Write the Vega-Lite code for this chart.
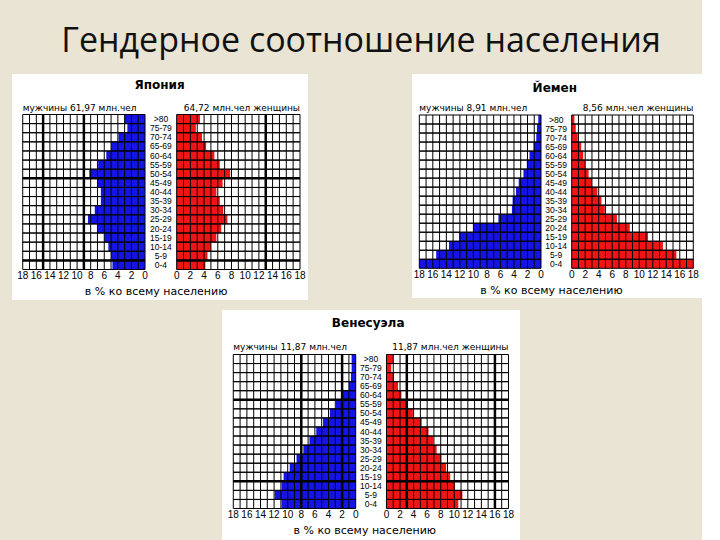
{
  "$schema": "https://vega.github.io/schema/vega-lite/v6.json",
  "background": "#e9e4d4",
  "padding": {"left": 12, "top": 25, "right": 0, "bottom": 0},
  "title": {"text": "Гендерное соотношение населения", "font": "Open Sans", "fontSize": 34, "fontWeight": "normal", "color": "#111111", "anchor": "middle", "offset": 15, "dx": 4},
  "config": {"view": {"stroke": null}},
  "datasets": {
    "grid": [{"v":0},{"v":1},{"v":2},{"v":3},{"v":4},{"v":5},{"v":6},{"v":7},{"v":8},{"v":9},{"v":10},{"v":11},{"v":12},{"v":13},{"v":14},{"v":15},{"v":16},{"v":17},{"v":18}],
    "japan": [
      {"age":">80","lo":80,"hi":85,"m":3.0,"f":3.4},
      {"age":"75-79","lo":75,"hi":80,"m":2.6,"f":2.8},
      {"age":"70-74","lo":70,"hi":75,"m":3.9,"f":3.7},
      {"age":"65-69","lo":65,"hi":70,"m":5.0,"f":4.3},
      {"age":"60-64","lo":60,"hi":65,"m":5.7,"f":5.5},
      {"age":"55-59","lo":55,"hi":60,"m":6.9,"f":6.3},
      {"age":"50-54","lo":50,"hi":55,"m":8.2,"f":7.8},
      {"age":"45-49","lo":45,"hi":50,"m":7.0,"f":6.7},
      {"age":"40-44","lo":40,"hi":45,"m":6.5,"f":5.8},
      {"age":"35-39","lo":35,"hi":40,"m":6.5,"f":6.3},
      {"age":"30-34","lo":30,"hi":35,"m":7.4,"f":6.8},
      {"age":"25-29","lo":25,"hi":30,"m":8.4,"f":7.4},
      {"age":"20-24","lo":20,"hi":25,"m":7.0,"f":6.5},
      {"age":"15-19","lo":15,"hi":20,"m":6.0,"f":5.8},
      {"age":"10-14","lo":10,"hi":15,"m":5.4,"f":5.0},
      {"age":"5-9","lo":5,"hi":10,"m":5.0,"f":4.5},
      {"age":"0-4","lo":0,"hi":5,"m":4.8,"f":4.2}
    ],
    "japan_thick": [{"dir":"v","side":"m","v":15},{"dir":"v","side":"m","v":9},{"dir":"v","side":"f","v":13},{"dir":"h","side":"b","v":50},{"dir":"h","side":"b","v":5}],
    "yemen": [
      {"age":">80","lo":80,"hi":85,"m":0.4,"f":0.4},
      {"age":"75-79","lo":75,"hi":80,"m":0.6,"f":0.6},
      {"age":"70-74","lo":70,"hi":75,"m":0.7,"f":0.9},
      {"age":"65-69","lo":65,"hi":70,"m":1.1,"f":1.4},
      {"age":"60-64","lo":60,"hi":65,"m":1.7,"f":1.7},
      {"age":"55-59","lo":55,"hi":60,"m":2.1,"f":2.0},
      {"age":"50-54","lo":50,"hi":55,"m":2.6,"f":2.5},
      {"age":"45-49","lo":45,"hi":50,"m":3.3,"f":3.0},
      {"age":"40-44","lo":40,"hi":45,"m":3.7,"f":3.8},
      {"age":"35-39","lo":35,"hi":40,"m":4.2,"f":4.4},
      {"age":"30-34","lo":30,"hi":35,"m":4.3,"f":4.9},
      {"age":"25-29","lo":25,"hi":30,"m":6.3,"f":6.7},
      {"age":"20-24","lo":20,"hi":25,"m":10.0,"f":8.6},
      {"age":"15-19","lo":15,"hi":20,"m":12.1,"f":11.3},
      {"age":"10-14","lo":10,"hi":15,"m":13.6,"f":13.5},
      {"age":"5-9","lo":5,"hi":10,"m":15.5,"f":15.5},
      {"age":"0-4","lo":0,"hi":5,"m":18.0,"f":18.0}
    ],
    "venezuela": [
      {"age":">80","lo":80,"hi":85,"m":0.6,"f":1.0},
      {"age":"75-79","lo":75,"hi":80,"m":0.6,"f":0.7},
      {"age":"70-74","lo":70,"hi":75,"m":0.7,"f":1.1},
      {"age":"65-69","lo":65,"hi":70,"m":1.0,"f":1.7},
      {"age":"60-64","lo":60,"hi":65,"m":1.9,"f":2.2},
      {"age":"55-59","lo":55,"hi":60,"m":2.9,"f":2.9},
      {"age":"50-54","lo":50,"hi":55,"m":3.8,"f":3.9},
      {"age":"45-49","lo":45,"hi":50,"m":4.8,"f":5.2},
      {"age":"40-44","lo":40,"hi":45,"m":5.8,"f":6.2},
      {"age":"35-39","lo":35,"hi":40,"m":6.8,"f":6.9},
      {"age":"30-34","lo":30,"hi":35,"m":7.7,"f":7.4},
      {"age":"25-29","lo":25,"hi":30,"m":8.7,"f":8.1},
      {"age":"20-24","lo":20,"hi":25,"m":9.7,"f":8.8},
      {"age":"15-19","lo":15,"hi":20,"m":10.6,"f":9.4},
      {"age":"10-14","lo":10,"hi":15,"m":10.9,"f":10.1},
      {"age":"5-9","lo":5,"hi":10,"m":11.9,"f":11.2},
      {"age":"0-4","lo":0,"hi":5,"m":10.9,"f":10.6}
    ],
    "venezuela_thick": [{"dir":"v","side":"m","v":8},{"dir":"v","side":"m","v":2},{"dir":"v","side":"f","v":3},{"dir":"v","side":"f","v":16},{"dir":"h","side":"b","v":60},{"dir":"h","side":"b","v":15}]
  },
  "spacing": 10,
  "vconcat": [
    {
      "spacing": 104,
      "hconcat": [
        {
          "width": 296, "height": 226,
          "view": {"fill": "white", "stroke": null},
          "resolve": {"scale": {"x": "independent"}},
          "layer": [
            {"layer": [
              {"data": {"name": "japan"}, "mark": {"type": "rect", "color": "#1414e6"},
               "encoding": {
                 "x": {"field": "m", "type": "quantitative", "scale": {"domain": [-23.99, 19.58], "reverse": true, "nice": false, "zero": false}, "axis": null},
                 "x2": {"datum": 0},
                 "y": {"field": "lo", "type": "quantitative", "scale": {"domain": [-16.73, 107.21], "nice": false, "zero": false}, "axis": null},
                 "y2": {"field": "hi"}}},
              {"data": {"name": "grid"}, "mark": {"type": "rule", "color": "black", "strokeWidth": 1},
               "encoding": {
                 "x": {"field": "v", "type": "quantitative", "scale": {"domain": [-23.99, 19.58], "reverse": true, "nice": false, "zero": false}, "axis": null},
                 "y": {"datum": 0, "type": "quantitative", "scale": {"domain": [-16.73, 107.21], "nice": false, "zero": false}, "axis": null},
                 "y2": {"datum": 85}}},
              {"data": {"name": "japan"}, "mark": {"type": "rule", "color": "black", "strokeWidth": 1},
               "encoding": {
                 "x": {"datum": 0, "type": "quantitative", "scale": {"domain": [-23.99, 19.58], "reverse": true, "nice": false, "zero": false}, "axis": null},
                 "x2": {"datum": 18},
                 "y": {"field": "lo", "type": "quantitative", "scale": {"domain": [-16.73, 107.21], "nice": false, "zero": false}, "axis": null}}},
              {"data": {"name": "japan"}, "mark": {"type": "rule", "color": "black", "strokeWidth": 1},
               "encoding": {
                 "x": {"datum": 0, "type": "quantitative", "scale": {"domain": [-23.99, 19.58], "reverse": true, "nice": false, "zero": false}, "axis": null},
                 "x2": {"datum": 18},
                 "y": {"field": "hi", "type": "quantitative", "scale": {"domain": [-16.73, 107.21], "nice": false, "zero": false}, "axis": null}}},
              {"data": {"name": "japan_thick"}, "transform": [{"filter": "datum.dir == 'v' && datum.side == 'm'"}], "mark": {"type": "rule", "color": "black", "strokeWidth": 2.5},
               "encoding": {
                 "x": {"field": "v", "type": "quantitative", "scale": {"domain": [-23.99, 19.58], "reverse": true, "nice": false, "zero": false}, "axis": null},
                 "y": {"datum": 0, "type": "quantitative", "scale": {"domain": [-16.73, 107.21], "nice": false, "zero": false}, "axis": null},
                 "y2": {"datum": 85}}},
              {"data": {"name": "japan_thick"}, "transform": [{"filter": "datum.dir == 'h'"}], "mark": {"type": "rule", "color": "black", "strokeWidth": 2.5},
               "encoding": {
                 "x": {"datum": 0, "type": "quantitative", "scale": {"domain": [-23.99, 19.58], "reverse": true, "nice": false, "zero": false}, "axis": null},
                 "x2": {"datum": 18},
                 "y": {"field": "v", "type": "quantitative", "scale": {"domain": [-16.73, 107.21], "nice": false, "zero": false}, "axis": null}}},
              {"data": {"name": "grid"}, "transform": [{"filter": "datum.v % 2 == 0"}], "mark": {"type": "text", "align": "center", "baseline": "top", "dy": 1.5, "font": "Liberation Sans", "fontSize": 10, "color": "black"},
               "encoding": {
                 "text": {"field": "v"},
                 "x": {"field": "v", "type": "quantitative", "scale": {"domain": [-23.99, 19.58], "reverse": true, "nice": false, "zero": false}, "axis": null},
                 "y": {"datum": 0, "type": "quantitative", "scale": {"domain": [-16.73, 107.21], "nice": false, "zero": false}, "axis": null}}},
              {"data": {"values": [{"t": "мужчины 61,97 млн.чел"}]}, "mark": {"type": "text", "align": "left", "baseline": "middle", "font": "DejaVu Sans", "fontSize": 9, "color": "black"},
               "encoding": {
                 "text": {"field": "t"},
                 "x": {"datum": 18, "type": "quantitative", "scale": {"domain": [-23.99, 19.58], "reverse": true, "nice": false, "zero": false}, "axis": null},
                 "y": {"datum": 88.57, "type": "quantitative", "scale": {"domain": [-16.73, 107.21], "nice": false, "zero": false}, "axis": null}}}
            ]},
            {"layer": [
              {"data": {"name": "japan"}, "mark": {"type": "rect", "color": "#f01414"},
               "encoding": {
                 "x": {"field": "f", "type": "quantitative", "scale": {"domain": [-24.04, 19.17], "nice": false, "zero": false}, "axis": null},
                 "x2": {"datum": 0},
                 "y": {"field": "lo", "type": "quantitative", "scale": {"domain": [-16.73, 107.21], "nice": false, "zero": false}, "axis": null},
                 "y2": {"field": "hi"}}},
              {"data": {"name": "grid"}, "mark": {"type": "rule", "color": "black", "strokeWidth": 1},
               "encoding": {
                 "x": {"field": "v", "type": "quantitative", "scale": {"domain": [-24.04, 19.17], "nice": false, "zero": false}, "axis": null},
                 "y": {"datum": 0, "type": "quantitative", "scale": {"domain": [-16.73, 107.21], "nice": false, "zero": false}, "axis": null},
                 "y2": {"datum": 85}}},
              {"data": {"name": "japan"}, "mark": {"type": "rule", "color": "black", "strokeWidth": 1},
               "encoding": {
                 "x": {"datum": 0, "type": "quantitative", "scale": {"domain": [-24.04, 19.17], "nice": false, "zero": false}, "axis": null},
                 "x2": {"datum": 18},
                 "y": {"field": "lo", "type": "quantitative", "scale": {"domain": [-16.73, 107.21], "nice": false, "zero": false}, "axis": null}}},
              {"data": {"name": "japan"}, "mark": {"type": "rule", "color": "black", "strokeWidth": 1},
               "encoding": {
                 "x": {"datum": 0, "type": "quantitative", "scale": {"domain": [-24.04, 19.17], "nice": false, "zero": false}, "axis": null},
                 "x2": {"datum": 18},
                 "y": {"field": "hi", "type": "quantitative", "scale": {"domain": [-16.73, 107.21], "nice": false, "zero": false}, "axis": null}}},
              {"data": {"name": "japan_thick"}, "transform": [{"filter": "datum.dir == 'v' && datum.side == 'f'"}], "mark": {"type": "rule", "color": "black", "strokeWidth": 2.5},
               "encoding": {
                 "x": {"field": "v", "type": "quantitative", "scale": {"domain": [-24.04, 19.17], "nice": false, "zero": false}, "axis": null},
                 "y": {"datum": 0, "type": "quantitative", "scale": {"domain": [-16.73, 107.21], "nice": false, "zero": false}, "axis": null},
                 "y2": {"datum": 85}}},
              {"data": {"name": "japan_thick"}, "transform": [{"filter": "datum.dir == 'h'"}], "mark": {"type": "rule", "color": "black", "strokeWidth": 2.5},
               "encoding": {
                 "x": {"datum": 0, "type": "quantitative", "scale": {"domain": [-24.04, 19.17], "nice": false, "zero": false}, "axis": null},
                 "x2": {"datum": 18},
                 "y": {"field": "v", "type": "quantitative", "scale": {"domain": [-16.73, 107.21], "nice": false, "zero": false}, "axis": null}}},
              {"data": {"name": "grid"}, "transform": [{"filter": "datum.v % 2 == 0"}], "mark": {"type": "text", "align": "center", "baseline": "top", "dy": 1.5, "font": "Liberation Sans", "fontSize": 10, "color": "black"},
               "encoding": {
                 "text": {"field": "v"},
                 "x": {"field": "v", "type": "quantitative", "scale": {"domain": [-24.04, 19.17], "nice": false, "zero": false}, "axis": null},
                 "y": {"datum": 0, "type": "quantitative", "scale": {"domain": [-16.73, 107.21], "nice": false, "zero": false}, "axis": null}}},
              {"data": {"values": [{"t": "в % ко всему населению"}]}, "mark": {"type": "text", "align": "center", "baseline": "top", "dy": 17, "font": "DejaVu Sans", "fontSize": 11, "color": "black"},
               "encoding": {
                 "text": {"field": "t"},
                 "x": {"datum": -3.0, "type": "quantitative", "scale": {"domain": [-24.04, 19.17], "nice": false, "zero": false}, "axis": null},
                 "y": {"datum": 0, "type": "quantitative", "scale": {"domain": [-16.73, 107.21], "nice": false, "zero": false}, "axis": null}}},
              {"data": {"values": [{"t": "64,72 млн.чел женщины"}]}, "mark": {"type": "text", "align": "right", "baseline": "middle", "font": "DejaVu Sans", "fontSize": 9, "color": "black"},
               "encoding": {
                 "text": {"field": "t"},
                 "x": {"datum": 18, "type": "quantitative", "scale": {"domain": [-24.04, 19.17], "nice": false, "zero": false}, "axis": null},
                 "y": {"datum": 88.57, "type": "quantitative", "scale": {"domain": [-16.73, 107.21], "nice": false, "zero": false}, "axis": null}}},
              {"data": {"values": [{"t": "Япония"}]}, "mark": {"type": "text", "align": "center", "baseline": "middle", "font": "DejaVu Sans", "fontSize": 12, "fontWeight": "bold", "color": "black"},
               "encoding": {
                 "text": {"field": "t"},
                 "x": {"datum": -2.5, "type": "quantitative", "scale": {"domain": [-24.04, 19.17], "nice": false, "zero": false}, "axis": null},
                 "y": {"datum": 101.18, "type": "quantitative", "scale": {"domain": [-16.73, 107.21], "nice": false, "zero": false}, "axis": null}}},
              {"data": {"name": "japan"}, "mark": {"type": "text", "align": "center", "baseline": "middle", "dy": -4.5, "font": "Liberation Sans", "fontSize": 8.5, "color": "black"},
               "encoding": {
                 "text": {"field": "age"},
                 "x": {"datum": -2.3, "type": "quantitative", "scale": {"domain": [-24.04, 19.17], "nice": false, "zero": false}, "axis": null},
                 "y": {"field": "lo", "type": "quantitative", "scale": {"domain": [-16.73, 107.21], "nice": false, "zero": false}, "axis": null}}}
            ]}
          ]
        },
        {
          "width": 290, "height": 224,
          "view": {"fill": "white", "stroke": null},
          "resolve": {"scale": {"x": "independent"}},
          "layer": [
            {"layer": [
              {"data": {"name": "yemen"}, "mark": {"type": "rect", "color": "#1414e6"},
               "encoding": {
                 "x": {"field": "m", "type": "quantitative", "scale": {"domain": [-23.81, 19.08], "reverse": true, "nice": false, "zero": false}, "axis": null},
                 "x2": {"datum": 0},
                 "y": {"field": "lo", "type": "quantitative", "scale": {"domain": [-16.47, 107.73], "nice": false, "zero": false}, "axis": null},
                 "y2": {"field": "hi"}}},
              {"data": {"name": "grid"}, "mark": {"type": "rule", "color": "black", "strokeWidth": 1},
               "encoding": {
                 "x": {"field": "v", "type": "quantitative", "scale": {"domain": [-23.81, 19.08], "reverse": true, "nice": false, "zero": false}, "axis": null},
                 "y": {"datum": 0, "type": "quantitative", "scale": {"domain": [-16.47, 107.73], "nice": false, "zero": false}, "axis": null},
                 "y2": {"datum": 85}}},
              {"data": {"name": "yemen"}, "mark": {"type": "rule", "color": "black", "strokeWidth": 1},
               "encoding": {
                 "x": {"datum": 0, "type": "quantitative", "scale": {"domain": [-23.81, 19.08], "reverse": true, "nice": false, "zero": false}, "axis": null},
                 "x2": {"datum": 18},
                 "y": {"field": "lo", "type": "quantitative", "scale": {"domain": [-16.47, 107.73], "nice": false, "zero": false}, "axis": null}}},
              {"data": {"name": "yemen"}, "mark": {"type": "rule", "color": "black", "strokeWidth": 1},
               "encoding": {
                 "x": {"datum": 0, "type": "quantitative", "scale": {"domain": [-23.81, 19.08], "reverse": true, "nice": false, "zero": false}, "axis": null},
                 "x2": {"datum": 18},
                 "y": {"field": "hi", "type": "quantitative", "scale": {"domain": [-16.47, 107.73], "nice": false, "zero": false}, "axis": null}}},
              {"data": {"name": "grid"}, "transform": [{"filter": "datum.v % 2 == 0"}], "mark": {"type": "text", "align": "center", "baseline": "top", "dy": 1.5, "font": "Liberation Sans", "fontSize": 10, "color": "black"},
               "encoding": {
                 "text": {"field": "v"},
                 "x": {"field": "v", "type": "quantitative", "scale": {"domain": [-23.81, 19.08], "reverse": true, "nice": false, "zero": false}, "axis": null},
                 "y": {"datum": 0, "type": "quantitative", "scale": {"domain": [-16.47, 107.73], "nice": false, "zero": false}, "axis": null}}},
              {"data": {"values": [{"t": "мужчины 8,91 млн.чел"}]}, "mark": {"type": "text", "align": "left", "baseline": "middle", "font": "DejaVu Sans", "fontSize": 9, "color": "black"},
               "encoding": {
                 "text": {"field": "t"},
                 "x": {"datum": 18, "type": "quantitative", "scale": {"domain": [-23.81, 19.08], "reverse": true, "nice": false, "zero": false}, "axis": null},
                 "y": {"datum": 88.71, "type": "quantitative", "scale": {"domain": [-16.47, 107.73], "nice": false, "zero": false}, "axis": null}}}
            ]},
            {"layer": [
              {"data": {"name": "yemen"}, "mark": {"type": "rect", "color": "#f01414"},
               "encoding": {
                 "x": {"field": "f", "type": "quantitative", "scale": {"domain": [-23.64, 19.29], "nice": false, "zero": false}, "axis": null},
                 "x2": {"datum": 0},
                 "y": {"field": "lo", "type": "quantitative", "scale": {"domain": [-16.47, 107.73], "nice": false, "zero": false}, "axis": null},
                 "y2": {"field": "hi"}}},
              {"data": {"name": "grid"}, "mark": {"type": "rule", "color": "black", "strokeWidth": 1},
               "encoding": {
                 "x": {"field": "v", "type": "quantitative", "scale": {"domain": [-23.64, 19.29], "nice": false, "zero": false}, "axis": null},
                 "y": {"datum": 0, "type": "quantitative", "scale": {"domain": [-16.47, 107.73], "nice": false, "zero": false}, "axis": null},
                 "y2": {"datum": 85}}},
              {"data": {"name": "yemen"}, "mark": {"type": "rule", "color": "black", "strokeWidth": 1},
               "encoding": {
                 "x": {"datum": 0, "type": "quantitative", "scale": {"domain": [-23.64, 19.29], "nice": false, "zero": false}, "axis": null},
                 "x2": {"datum": 18},
                 "y": {"field": "lo", "type": "quantitative", "scale": {"domain": [-16.47, 107.73], "nice": false, "zero": false}, "axis": null}}},
              {"data": {"name": "yemen"}, "mark": {"type": "rule", "color": "black", "strokeWidth": 1},
               "encoding": {
                 "x": {"datum": 0, "type": "quantitative", "scale": {"domain": [-23.64, 19.29], "nice": false, "zero": false}, "axis": null},
                 "x2": {"datum": 18},
                 "y": {"field": "hi", "type": "quantitative", "scale": {"domain": [-16.47, 107.73], "nice": false, "zero": false}, "axis": null}}},
              {"data": {"name": "grid"}, "transform": [{"filter": "datum.v % 2 == 0"}], "mark": {"type": "text", "align": "center", "baseline": "top", "dy": 1.5, "font": "Liberation Sans", "fontSize": 10, "color": "black"},
               "encoding": {
                 "text": {"field": "v"},
                 "x": {"field": "v", "type": "quantitative", "scale": {"domain": [-23.64, 19.29], "nice": false, "zero": false}, "axis": null},
                 "y": {"datum": 0, "type": "quantitative", "scale": {"domain": [-16.47, 107.73], "nice": false, "zero": false}, "axis": null}}},
              {"data": {"values": [{"t": "в % ко всему населению"}]}, "mark": {"type": "text", "align": "center", "baseline": "top", "dy": 17, "font": "DejaVu Sans", "fontSize": 11, "color": "black"},
               "encoding": {
                 "text": {"field": "t"},
                 "x": {"datum": -3.0, "type": "quantitative", "scale": {"domain": [-23.64, 19.29], "nice": false, "zero": false}, "axis": null},
                 "y": {"datum": 0, "type": "quantitative", "scale": {"domain": [-16.47, 107.73], "nice": false, "zero": false}, "axis": null}}},
              {"data": {"values": [{"t": "8,56 млн.чел женщины"}]}, "mark": {"type": "text", "align": "right", "baseline": "middle", "font": "DejaVu Sans", "fontSize": 9, "color": "black"},
               "encoding": {
                 "text": {"field": "t"},
                 "x": {"datum": 18, "type": "quantitative", "scale": {"domain": [-23.64, 19.29], "nice": false, "zero": false}, "axis": null},
                 "y": {"datum": 88.71, "type": "quantitative", "scale": {"domain": [-16.47, 107.73], "nice": false, "zero": false}, "axis": null}}},
              {"data": {"values": [{"t": "Йемен"}]}, "mark": {"type": "text", "align": "center", "baseline": "middle", "font": "DejaVu Sans", "fontSize": 12, "fontWeight": "bold", "color": "black"},
               "encoding": {
                 "text": {"field": "t"},
                 "x": {"datum": -2.5, "type": "quantitative", "scale": {"domain": [-23.64, 19.29], "nice": false, "zero": false}, "axis": null},
                 "y": {"datum": 99.8, "type": "quantitative", "scale": {"domain": [-16.47, 107.73], "nice": false, "zero": false}, "axis": null}}},
              {"data": {"name": "yemen"}, "mark": {"type": "text", "align": "center", "baseline": "middle", "dy": -4.5, "font": "Liberation Sans", "fontSize": 8.5, "color": "black"},
               "encoding": {
                 "text": {"field": "age"},
                 "x": {"datum": -2.3, "type": "quantitative", "scale": {"domain": [-23.64, 19.29], "nice": false, "zero": false}, "axis": null},
                 "y": {"field": "lo", "type": "quantitative", "scale": {"domain": [-16.47, 107.73], "nice": false, "zero": false}, "axis": null}}}
            ]}
          ]
        }
      ]
    },
    {
      "spacing": 0,
      "hconcat": [
        {"width": 210, "height": 20, "data": {"values": []}, "mark": {"type": "point", "opacity": 0}},
        {
          "width": 298, "height": 230,
          "view": {"fill": "white", "stroke": null},
          "resolve": {"scale": {"x": "independent"}},
          "layer": [
            {"layer": [
              {"data": {"name": "venezuela"}, "mark": {"type": "rect", "color": "#1414e6"},
               "encoding": {
                 "x": {"field": "m", "type": "quantitative", "scale": {"domain": [-24.16, 19.66], "reverse": true, "nice": false, "zero": false}, "axis": null},
                 "x2": {"datum": 0},
                 "y": {"field": "lo", "type": "quantitative", "scale": {"domain": [-17.39, 109.56], "nice": false, "zero": false}, "axis": null},
                 "y2": {"field": "hi"}}},
              {"data": {"name": "grid"}, "mark": {"type": "rule", "color": "black", "strokeWidth": 1},
               "encoding": {
                 "x": {"field": "v", "type": "quantitative", "scale": {"domain": [-24.16, 19.66], "reverse": true, "nice": false, "zero": false}, "axis": null},
                 "y": {"datum": 0, "type": "quantitative", "scale": {"domain": [-17.39, 109.56], "nice": false, "zero": false}, "axis": null},
                 "y2": {"datum": 85}}},
              {"data": {"name": "venezuela"}, "mark": {"type": "rule", "color": "black", "strokeWidth": 1},
               "encoding": {
                 "x": {"datum": 0, "type": "quantitative", "scale": {"domain": [-24.16, 19.66], "reverse": true, "nice": false, "zero": false}, "axis": null},
                 "x2": {"datum": 18},
                 "y": {"field": "lo", "type": "quantitative", "scale": {"domain": [-17.39, 109.56], "nice": false, "zero": false}, "axis": null}}},
              {"data": {"name": "venezuela"}, "mark": {"type": "rule", "color": "black", "strokeWidth": 1},
               "encoding": {
                 "x": {"datum": 0, "type": "quantitative", "scale": {"domain": [-24.16, 19.66], "reverse": true, "nice": false, "zero": false}, "axis": null},
                 "x2": {"datum": 18},
                 "y": {"field": "hi", "type": "quantitative", "scale": {"domain": [-17.39, 109.56], "nice": false, "zero": false}, "axis": null}}},
              {"data": {"name": "venezuela_thick"}, "transform": [{"filter": "datum.dir == 'v' && datum.side == 'm'"}], "mark": {"type": "rule", "color": "black", "strokeWidth": 2.5},
               "encoding": {
                 "x": {"field": "v", "type": "quantitative", "scale": {"domain": [-24.16, 19.66], "reverse": true, "nice": false, "zero": false}, "axis": null},
                 "y": {"datum": 0, "type": "quantitative", "scale": {"domain": [-17.39, 109.56], "nice": false, "zero": false}, "axis": null},
                 "y2": {"datum": 85}}},
              {"data": {"name": "venezuela_thick"}, "transform": [{"filter": "datum.dir == 'h'"}], "mark": {"type": "rule", "color": "black", "strokeWidth": 2.5},
               "encoding": {
                 "x": {"datum": 0, "type": "quantitative", "scale": {"domain": [-24.16, 19.66], "reverse": true, "nice": false, "zero": false}, "axis": null},
                 "x2": {"datum": 18},
                 "y": {"field": "v", "type": "quantitative", "scale": {"domain": [-17.39, 109.56], "nice": false, "zero": false}, "axis": null}}},
              {"data": {"name": "grid"}, "transform": [{"filter": "datum.v % 2 == 0"}], "mark": {"type": "text", "align": "center", "baseline": "top", "dy": 1.5, "font": "Liberation Sans", "fontSize": 10, "color": "black"},
               "encoding": {
                 "text": {"field": "v"},
                 "x": {"field": "v", "type": "quantitative", "scale": {"domain": [-24.16, 19.66], "reverse": true, "nice": false, "zero": false}, "axis": null},
                 "y": {"datum": 0, "type": "quantitative", "scale": {"domain": [-17.39, 109.56], "nice": false, "zero": false}, "axis": null}}},
              {"data": {"values": [{"t": "мужчины 11,87 млн.чел"}]}, "mark": {"type": "text", "align": "left", "baseline": "middle", "font": "DejaVu Sans", "fontSize": 9, "color": "black"},
               "encoding": {
                 "text": {"field": "t"},
                 "x": {"datum": 18, "type": "quantitative", "scale": {"domain": [-24.16, 19.66], "reverse": true, "nice": false, "zero": false}, "axis": null},
                 "y": {"datum": 89.1, "type": "quantitative", "scale": {"domain": [-17.39, 109.56], "nice": false, "zero": false}, "axis": null}}}
            ]},
            {"layer": [
              {"data": {"name": "venezuela"}, "mark": {"type": "rect", "color": "#f01414"},
               "encoding": {
                 "x": {"field": "f", "type": "quantitative", "scale": {"domain": [-24.27, 19.70], "nice": false, "zero": false}, "axis": null},
                 "x2": {"datum": 0},
                 "y": {"field": "lo", "type": "quantitative", "scale": {"domain": [-17.39, 109.56], "nice": false, "zero": false}, "axis": null},
                 "y2": {"field": "hi"}}},
              {"data": {"name": "grid"}, "mark": {"type": "rule", "color": "black", "strokeWidth": 1},
               "encoding": {
                 "x": {"field": "v", "type": "quantitative", "scale": {"domain": [-24.27, 19.70], "nice": false, "zero": false}, "axis": null},
                 "y": {"datum": 0, "type": "quantitative", "scale": {"domain": [-17.39, 109.56], "nice": false, "zero": false}, "axis": null},
                 "y2": {"datum": 85}}},
              {"data": {"name": "venezuela"}, "mark": {"type": "rule", "color": "black", "strokeWidth": 1},
               "encoding": {
                 "x": {"datum": 0, "type": "quantitative", "scale": {"domain": [-24.27, 19.70], "nice": false, "zero": false}, "axis": null},
                 "x2": {"datum": 18},
                 "y": {"field": "lo", "type": "quantitative", "scale": {"domain": [-17.39, 109.56], "nice": false, "zero": false}, "axis": null}}},
              {"data": {"name": "venezuela"}, "mark": {"type": "rule", "color": "black", "strokeWidth": 1},
               "encoding": {
                 "x": {"datum": 0, "type": "quantitative", "scale": {"domain": [-24.27, 19.70], "nice": false, "zero": false}, "axis": null},
                 "x2": {"datum": 18},
                 "y": {"field": "hi", "type": "quantitative", "scale": {"domain": [-17.39, 109.56], "nice": false, "zero": false}, "axis": null}}},
              {"data": {"name": "venezuela_thick"}, "transform": [{"filter": "datum.dir == 'v' && datum.side == 'f'"}], "mark": {"type": "rule", "color": "black", "strokeWidth": 2.5},
               "encoding": {
                 "x": {"field": "v", "type": "quantitative", "scale": {"domain": [-24.27, 19.70], "nice": false, "zero": false}, "axis": null},
                 "y": {"datum": 0, "type": "quantitative", "scale": {"domain": [-17.39, 109.56], "nice": false, "zero": false}, "axis": null},
                 "y2": {"datum": 85}}},
              {"data": {"name": "venezuela_thick"}, "transform": [{"filter": "datum.dir == 'h'"}], "mark": {"type": "rule", "color": "black", "strokeWidth": 2.5},
               "encoding": {
                 "x": {"datum": 0, "type": "quantitative", "scale": {"domain": [-24.27, 19.70], "nice": false, "zero": false}, "axis": null},
                 "x2": {"datum": 18},
                 "y": {"field": "v", "type": "quantitative", "scale": {"domain": [-17.39, 109.56], "nice": false, "zero": false}, "axis": null}}},
              {"data": {"name": "grid"}, "transform": [{"filter": "datum.v % 2 == 0"}], "mark": {"type": "text", "align": "center", "baseline": "top", "dy": 1.5, "font": "Liberation Sans", "fontSize": 10, "color": "black"},
               "encoding": {
                 "text": {"field": "v"},
                 "x": {"field": "v", "type": "quantitative", "scale": {"domain": [-24.27, 19.70], "nice": false, "zero": false}, "axis": null},
                 "y": {"datum": 0, "type": "quantitative", "scale": {"domain": [-17.39, 109.56], "nice": false, "zero": false}, "axis": null}}},
              {"data": {"values": [{"t": "в % ко всему населению"}]}, "mark": {"type": "text", "align": "center", "baseline": "top", "dy": 17, "font": "DejaVu Sans", "fontSize": 11, "color": "black"},
               "encoding": {
                 "text": {"field": "t"},
                 "x": {"datum": -3.2, "type": "quantitative", "scale": {"domain": [-24.27, 19.70], "nice": false, "zero": false}, "axis": null},
                 "y": {"datum": 0, "type": "quantitative", "scale": {"domain": [-17.39, 109.56], "nice": false, "zero": false}, "axis": null}}},
              {"data": {"values": [{"t": "11,87 млн.чел женщины"}]}, "mark": {"type": "text", "align": "right", "baseline": "middle", "font": "DejaVu Sans", "fontSize": 9, "color": "black"},
               "encoding": {
                 "text": {"field": "t"},
                 "x": {"datum": 18, "type": "quantitative", "scale": {"domain": [-24.27, 19.70], "nice": false, "zero": false}, "axis": null},
                 "y": {"datum": 89.1, "type": "quantitative", "scale": {"domain": [-17.39, 109.56], "nice": false, "zero": false}, "axis": null}}},
              {"data": {"values": [{"t": "Венесуэла"}]}, "mark": {"type": "text", "align": "center", "baseline": "middle", "font": "DejaVu Sans", "fontSize": 12, "fontWeight": "bold", "color": "black"},
               "encoding": {
                 "text": {"field": "t"},
                 "x": {"datum": -2.7, "type": "quantitative", "scale": {"domain": [-24.27, 19.70], "nice": false, "zero": false}, "axis": null},
                 "y": {"datum": 102.4, "type": "quantitative", "scale": {"domain": [-17.39, 109.56], "nice": false, "zero": false}, "axis": null}}},
              {"data": {"name": "venezuela"}, "mark": {"type": "text", "align": "center", "baseline": "middle", "dy": -4.5, "font": "Liberation Sans", "fontSize": 8.5, "color": "black"},
               "encoding": {
                 "text": {"field": "age"},
                 "x": {"datum": -2.3, "type": "quantitative", "scale": {"domain": [-24.27, 19.70], "nice": false, "zero": false}, "axis": null},
                 "y": {"field": "lo", "type": "quantitative", "scale": {"domain": [-17.39, 109.56], "nice": false, "zero": false}, "axis": null}}}
            ]}
          ]
        }
      ]
    }
  ]
}
